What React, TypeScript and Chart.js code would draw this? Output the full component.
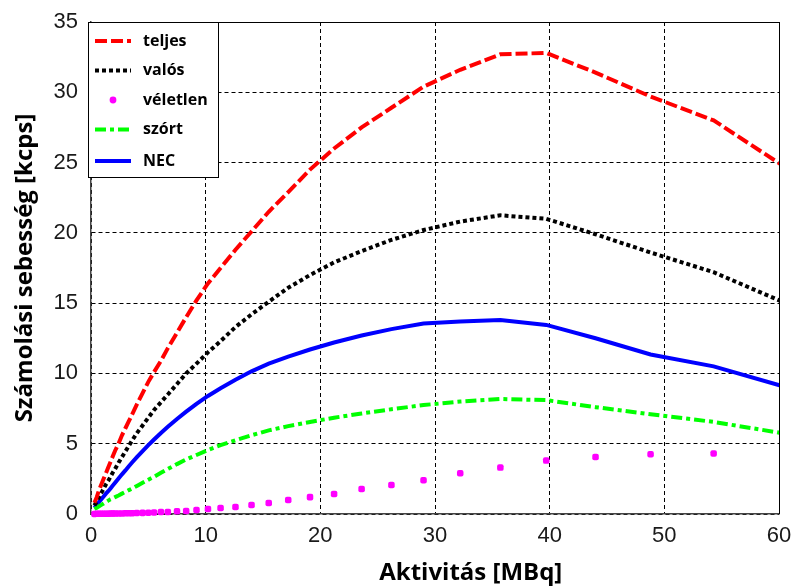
import React, { useEffect, useRef } from "react";
import { Chart, registerables } from "chart.js";

Chart.register(...registerables);

// Activity values (MBq) at which the series were sampled
const activity = [
  0.3, 0.5, 0.7, 0.9, 1.1, 1.3, 1.5, 1.7, 1.9, 2.1,
  2.4, 2.7, 3.0, 3.3, 3.6, 4.0, 4.5, 5.0, 5.5, 6.1,
  6.7, 7.5, 8.3, 9.2, 10.2, 11.3, 12.6, 14.0, 15.5, 17.2,
  19.1, 21.2, 23.6, 26.2, 29.0, 32.2, 35.7, 39.7, 44.0, 48.8,
  54.3, 60.3,
];

// Count rates (kcps)
const teljes = [
  0.8, 1.2, 1.7, 2.1, 2.5, 2.9, 3.3, 3.7, 4.1, 4.5,
  5.0, 5.6, 6.1, 6.6, 7.1, 7.8, 8.6, 9.4, 10.1, 10.9,
  11.8, 12.9, 14.0, 15.2, 16.4, 17.5, 18.8, 20.1, 21.5, 22.9,
  24.5, 26.0, 27.5, 28.9, 30.4, 31.6, 32.7, 32.8, 31.4, 29.7,
  28.0, 24.8,
];

const valos = [
  0.6, 0.9, 1.2, 1.5, 1.8, 2.1, 2.35, 2.65, 2.95, 3.2,
  3.65, 4.05, 4.45, 4.85, 5.25, 5.75, 6.3, 6.85, 7.4, 7.95,
  8.5, 9.25, 10.0, 10.7, 11.5, 12.3, 13.3, 14.2, 15.1, 16.1,
  17.0, 17.9, 18.7, 19.5, 20.2, 20.8, 21.25, 21.0, 19.9, 18.6,
  17.2, 15.1,
];

const veletlen = [
  0.0, 0.01, 0.01, 0.01, 0.02, 0.02, 0.02, 0.03, 0.03, 0.03,
  0.04, 0.04, 0.05, 0.05, 0.06, 0.07, 0.08, 0.09, 0.11, 0.14,
  0.14, 0.2, 0.21, 0.28, 0.36, 0.43, 0.5, 0.64, 0.78, 1.0,
  1.2, 1.43, 1.78, 2.06, 2.4, 2.9, 3.3, 3.8, 4.05, 4.25,
  4.3, null,
];

const szort = [
  0.35, 0.45, 0.55, 0.65, 0.75, 0.85, 0.95, 1.05, 1.12, 1.2,
  1.32, 1.45, 1.57, 1.7, 1.82, 2.0, 2.22, 2.44, 2.65, 2.93,
  3.2, 3.55, 3.88, 4.2, 4.55, 4.9, 5.25, 5.6, 5.95, 6.25,
  6.55, 6.85, 7.15, 7.45, 7.75, 8.0, 8.18, 8.1, 7.6, 7.1,
  6.55, 5.75,
];

const nec = [
  0.45, 0.65, 0.85, 1.05, 1.25, 1.45, 1.62, 1.82, 2.02, 2.22,
  2.52, 2.82, 3.1, 3.4, 3.68, 4.04, 4.48, 4.9, 5.3, 5.76,
  6.2, 6.76, 7.28, 7.84, 8.4, 8.95, 9.55, 10.15, 10.7, 11.2,
  11.7, 12.2, 12.7, 13.15, 13.55, 13.7, 13.8, 13.45, 12.5, 11.35,
  10.5, 9.1,
];

const seriesLabels = ["teljes", "valós", "véletlen", "szórt", "NEC"];
const xTitle = "Aktivitás [MBq]";
const yTitle = "Számolási sebesség [kcps]";
const xRange = [0, 60];
const yRange = [0, 35];
const xStep = 10;
const yStep = 5;

const pts = (vals: (number | null)[]) =>
  activity.map((x, i) => ({ x, y: vals[i] }));

const framePlugin = {
  id: "frame",
  beforeDatasetsDraw(chart: any) {
    const { ctx, chartArea: a } = chart;
    ctx.save();
    ctx.strokeStyle = "#000";
    ctx.lineWidth = 1;
    ctx.setLineDash([]);
    ctx.beginPath();
    ctx.moveTo(a.left, a.top + 0.5);
    ctx.lineTo(a.right + 0.5, a.top + 0.5);
    ctx.lineTo(a.right + 0.5, a.bottom);
    ctx.stroke();
    ctx.restore();
  },
};

const legendPlugin = {
  id: "boxLegend",
  afterDatasetsDraw(chart: any) {
    const { ctx, chartArea: a } = chart;
    const left = a.left - 3;
    const top = a.top;
    const w = 130;
    const h = 155;
    ctx.save();
    ctx.fillStyle = "#fff";
    ctx.fillRect(left, top, w, h);
    ctx.strokeStyle = "#000";
    ctx.lineWidth = 1;
    ctx.setLineDash([]);
    ctx.strokeRect(left + 0.5, top + 0.5, w, h);
    chart.data.datasets.forEach((ds: any, i: number) => {
      const y = top + 19 + i * 29.5 + (i === 4 ? 2 : 0);
      if (ds.showLine === false) {
        ctx.fillStyle = ds.pointBackgroundColor;
        ctx.beginPath();
        ctx.arc(left + 25, y, 3.4, 0, Math.PI * 2);
        ctx.fill();
      } else {
        ctx.strokeStyle = ds.borderColor;
        ctx.lineWidth = ds.borderWidth;
        ctx.setLineDash(ds.borderDash || []);
        ctx.beginPath();
        ctx.moveTo(left + 7, y);
        ctx.lineTo(left + 43, y);
        ctx.stroke();
        ctx.setLineDash([]);
      }
      ctx.fillStyle = "#000";
      ctx.font = '700 16px "Open Sans"';
      ctx.textAlign = "left";
      ctx.textBaseline = "middle";
      ctx.fillText(ds.label, left + 55, y);
    });
    ctx.restore();
  },
};

const titlePlugin = {
  id: "axisTitles",
  afterDraw(chart: any) {
    const { ctx, chartArea: a } = chart;
    ctx.save();
    ctx.fillStyle = "#000";
    ctx.font = '700 24px "Open Sans"';
    ctx.textAlign = "center";
    ctx.textBaseline = "alphabetic";
    ctx.fillText(xTitle, a.left + a.width * 0.552, 580);
    ctx.translate(32, (a.top + a.bottom) / 2);
    ctx.rotate(-Math.PI / 2);
    ctx.fillText(yTitle, 0, 0);
    ctx.restore();
  },
};

export default function App() {
  const ref = useRef<HTMLCanvasElement | null>(null);

  useEffect(() => {
    document.body.style.margin = "0";
    const canvas = ref.current;
    if (!canvas) return;
    const tickFont = { family: '"Liberation Sans", Arial, sans-serif', size: 22 };
    const lineClip = { left: 4, top: 4, right: 0, bottom: 4 };
    const chart = new Chart(canvas, {
      type: "line",
      data: {
        datasets: [
          {
            label: seriesLabels[0],
            data: pts(teljes),
            borderColor: "#ff0000",
            backgroundColor: "#ff0000",
            borderWidth: 4,
            borderDash: [12, 4],
            pointRadius: 0,
            tension: 0,
            clip: lineClip,
          },
          {
            label: seriesLabels[1],
            data: pts(valos),
            borderColor: "#000000",
            backgroundColor: "#000000",
            borderWidth: 4,
            borderDash: [4, 3],
            pointRadius: 0,
            tension: 0,
            clip: lineClip,
          },
          {
            label: seriesLabels[2],
            data: pts(veletlen),
            showLine: false,
            borderColor: "#ff00ff",
            backgroundColor: "#ff00ff",
            pointBackgroundColor: "#ff00ff",
            pointBorderWidth: 0,
            pointRadius: 3.8,
            pointStyle: "rectRounded",
            clip: false,
          },
          {
            label: seriesLabels[3],
            data: pts(szort),
            borderColor: "#00ff00",
            backgroundColor: "#00ff00",
            borderWidth: 4,
            borderDash: [11, 4, 4, 4],
            pointRadius: 0,
            tension: 0,
            clip: lineClip,
          },
          {
            label: seriesLabels[4],
            data: pts(nec),
            borderColor: "#0000ff",
            backgroundColor: "#0000ff",
            borderWidth: 4,
            pointRadius: 0,
            tension: 0,
            clip: lineClip,
          },
        ],
      },
      options: {
        animation: false,
        responsive: false,
        maintainAspectRatio: false,
        layout: { padding: { left: 0, right: 13, top: 22, bottom: 0 } },
        plugins: {
          legend: { display: false },
          tooltip: { enabled: false },
        },
        scales: {
          x: {
            type: "linear",
            min: xRange[0],
            max: xRange[1],
            afterFit: (s: any) => {
              s.height = 72;
            },
            ticks: {
              stepSize: xStep,
              font: tickFont,
              color: "#1a1a1a",
              padding: 0,
              maxRotation: 0,
            },
            grid: {
              color: "#000",
              lineWidth: 1,
              drawTicks: true,
              tickLength: 9,
              tickColor: "rgba(0,0,0,0)",
            },
            border: { display: true, color: "#444", width: 1.5, dash: [4, 3] },
          },
          y: {
            type: "linear",
            min: yRange[0],
            max: yRange[1],
            afterFit: (s: any) => {
              s.width = 91;
            },
            ticks: {
              stepSize: yStep,
              font: tickFont,
              color: "#1a1a1a",
              padding: 0,
            },
            grid: {
              color: "#000",
              lineWidth: 1,
              drawTicks: true,
              tickLength: 13,
              tickColor: "rgba(0,0,0,0)",
            },
            border: { display: true, color: "#444", width: 1.5, dash: [4, 3] },
          },
        },
      },
      plugins: [framePlugin, legendPlugin, titlePlugin],
    } as any);
    return () => chart.destroy();
  }, []);

  return (
    <div style={{ width: 792, height: 586 }}>
      <canvas ref={ref} width={792} height={586} style={{ display: "block" }} />
    </div>
  );
}
